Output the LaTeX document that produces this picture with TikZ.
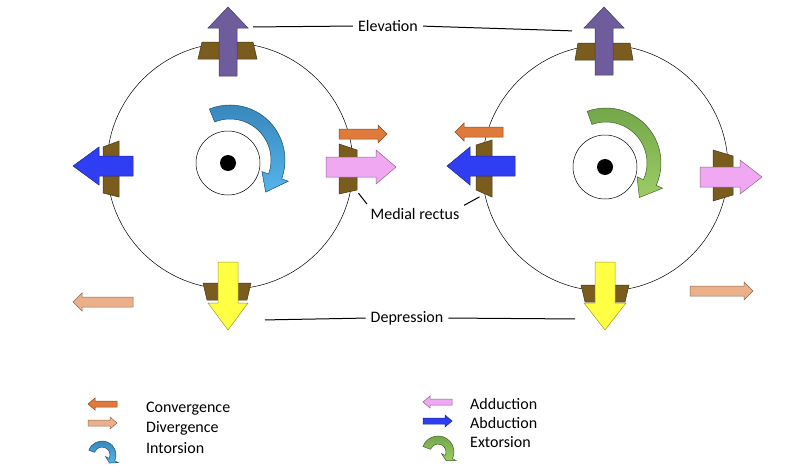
\documentclass[tikz,border=0pt]{standalone}
\usepackage{fontspec}
\setmainfont{Carlito}
\usepackage{tikz}
\definecolor{muscle}{HTML}{7A5C1E}
\definecolor{elev}{HTML}{6E5C9C}
\definecolor{abdu}{HTML}{2F3EF2}
\definecolor{addu}{HTML}{F0A8F2}
\definecolor{depr}{HTML}{FFFF44}
\definecolor{conv}{HTML}{E07A3A}
\definecolor{dive}{HTML}{EBB08A}
\definecolor{intA}{HTML}{3584B8}
\definecolor{intB}{HTML}{55B4EC}
\definecolor{extA}{HTML}{70A448}
\definecolor{extB}{HTML}{9CCC64}
\tikzset{
    arr/.style={fill=#1, draw=#1!60!black, line width=0.5pt},
    ins/.style={fill=muscle, draw=muscle!60!black, line width=0.5pt},
    globe/.style={draw, line width=0.5pt},
    lbl/.style={font=\fontsize{16}{18}\selectfont, inner sep=1pt},
    lead/.style={line width=1pt, shorten <=4pt, shorten >=4pt}
}
% block arrow: x, y, angle, length, shaft half width, head half width, head length, style
\newcommand{\blockarrow}[8] {
	\draw[#8,shift={(#1,#2)},rotate=#3] (0,-#5) -- (#4-#7,-#5) -- (#4-#7,-#6) -- (#4,0)
		-- (#4-#7,#6) -- (#4-#7,#5) -- (0,#5) -- cycle;
}
% curved arrow: cx, cy, start, end, radius, half width, head half width, style
\newcommand{\curlarrow}[8] {
	\draw[#8,shift={(#1,#2)}] (#3:#5+#6) arc[start angle=#3, end angle=#4, radius=#5+#6]
		-- (#4:#5+#7) -- (#4+22:#5) -- (#4:#5-#7) -- (#4:#5-#6)
		arc[start angle=#4, end angle=#3, radius=#5-#6] -- cycle;
}

\begin{document}
\begin{tikzpicture}[x=1pt,y=-1pt]
		\useasboundingbox (0,0) rectangle (800,471);

		% Left eye
		\draw[globe] (230,166) circle [radius=123];
		\draw[globe] (228,163) circle [radius=32];
		\fill (228,163) circle [radius=8];
		\draw[ins] (202,42) -- (253,42) -- (257,59) -- (198,59) -- cycle;
		\blockarrow{228}{76}{90}{69}{9}{20}{21}{arr=elev}
		\draw[ins] (103,147) -- (119,141) -- (119,197) -- (103,193) -- cycle;
		\blockarrow{133}{166}{180}{60}{10}{19}{26}{arr=abdu}
		\draw[ins] (339,144) -- (357,150) -- (357,190) -- (339,194) -- cycle;
		\blockarrow{326}{167}{0}{70}{10}{17}{20}{arr=addu}
		\blockarrow{339}{134}{0}{48}{5}{9}{9}{arr=conv}
		\draw[ins] (203,283) -- (251,283) -- (247,300) -- (207,300) -- cycle;
		\blockarrow{228}{262}{-90}{68}{10}{20}{27}{arr=depr}
		\blockarrow{133}{302}{180}{60}{5}{9}{9}{arr=dive}
		\curlarrow{230}{160}{-112}{20}{48}{7}{14}{top color=intA, bottom color=intB, draw=intA!60!black, line width=0.5pt}

		% Right eye
		\draw[globe] (605,168) circle [radius=123];
		\draw[globe] (605,167) circle [radius=32];
		\fill (605,167) circle [radius=8];
		\draw[ins] (578,43) -- (630,43) -- (633,60) -- (575,60) -- cycle;
		\blockarrow{604}{75}{90}{68}{9}{20}{21}{arr=elev}
		\draw[ins] (476,145) -- (492,140) -- (492,197) -- (476,190) -- cycle;
		\blockarrow{515}{166}{180}{68}{10}{19}{23}{arr=abdu}
		\blockarrow{503}{132}{180}{48}{5}{9}{9}{arr=conv}
		\draw[ins] (713,150) -- (733,156) -- (733,195) -- (713,201) -- cycle;
		\blockarrow{700}{177}{0}{62}{10}{17}{22}{arr=addu}
		\draw[ins] (581,285) -- (629,285) -- (625,302) -- (585,302) -- cycle;
		\blockarrow{605}{262}{-90}{68}{10}{21}{27}{arr=depr}
		\blockarrow{690}{291}{0}{63}{5}{9}{9}{arr=dive}
		\curlarrow{606}{163}{-110}{24}{48}{7}{14}{top color=extA, bottom color=extB, draw=extA!60!black, line width=0.5pt}

		% Labels
		\node[lbl] (elev) at (388,26) {Elevation};
		\node[lbl] (depr) at (407,318) {Depression};
		\node[lbl] (medr) at (415,214) {Medial rectus};
		\coordinate (elevL) at (249,27);
		\coordinate (elevR) at (576,31);
		\coordinate (deprL) at (261,320);
		\coordinate (deprR) at (579,319);
		\coordinate (medrL) at (356,190);
		\coordinate (medrR) at (483,195);
		\draw[lead] (elevL) -- (elev.west);
		\draw[lead] (elev.east) -- (elevR);
		\draw[lead] (deprL) -- (depr.west);
		\draw[lead] (depr.east) -- (deprR);
		\draw[lead] (medrL) -- (medr.north west);
		\draw[lead] (medr.north east) -- (medrR);

		% Legend
		\blockarrow{117}{404}{180}{29}{3}{6}{7}{arr=conv}
		\blockarrow{88}{423}{0}{29}{3}{6}{7}{arr=dive}
		\curlarrow{102}{455}{-160}{25}{11}{3}{7}{top color=intA, bottom color=intB, draw=intA!60!black, line width=0.5pt}
		\node[lbl, anchor=west] (lconv) at (145,409) {Convergence};
		\node[lbl, anchor=west] (ldive) at (145,428) {Divergence};
		\node[lbl, anchor=west] (lint) at (145,448) {Intorsion};
		\blockarrow{452}{402}{180}{29}{3}{6}{7}{arr=addu}
		\blockarrow{423}{421}{0}{29}{3}{6}{7}{arr=abdu}
		\curlarrow{438}{452}{-160}{25}{12}{4}{8}{top color=extA, bottom color=extB, draw=extA!60!black, line width=0.5pt}
		\node[lbl, anchor=west] (ladd) at (469,404) {Adduction};
		\node[lbl, anchor=west] (labd) at (469,423) {Abduction};
		\node[lbl, anchor=west] (lext) at (469,442) {Extorsion};
\end{tikzpicture}
\end{document}
